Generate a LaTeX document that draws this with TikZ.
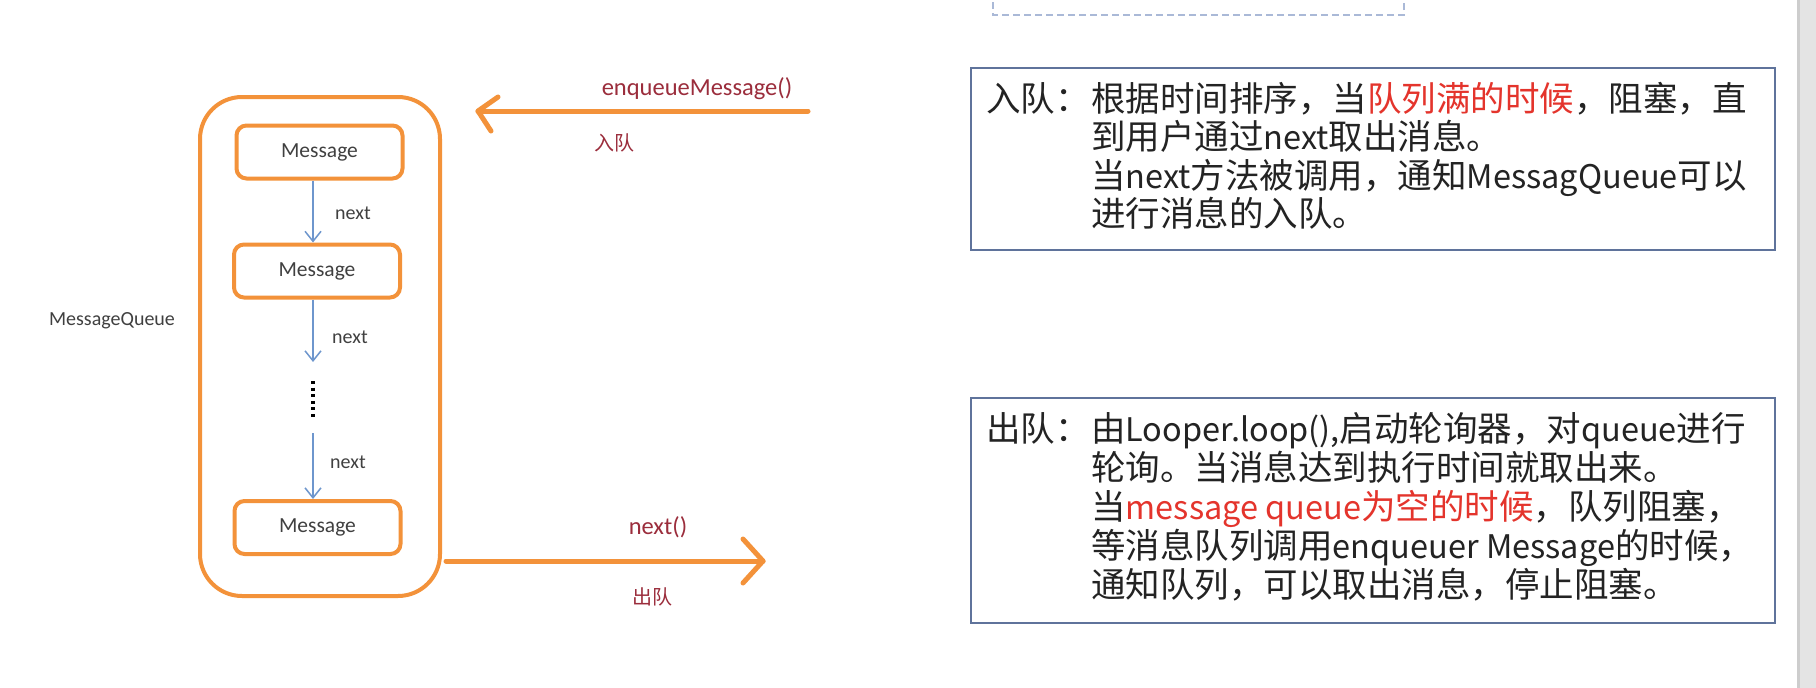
\documentclass[tikz,border=0pt]{standalone}
\usepackage{fontspec}
\setmainfont{Carlito}
\newfontfamily\cjk{Noto Sans CJK SC}
\newcommand{\lt}[1]{{\fontsize{32.5}{38}\selectfont #1}}
\usetikzlibrary{arrows.meta}
\definecolor{qorange}{RGB}{243,146,58}
\definecolor{qblue}{RGB}{110,150,205}
\definecolor{qred}{RGB}{228,52,44}
\definecolor{qmaroon}{RGB}{155,45,60}
\definecolor{qframe}{RGB}{95,115,155}
\definecolor{qdash}{RGB}{170,185,215}
\definecolor{qtext}{RGB}{35,35,35}
\definecolor{qgray}{RGB}{64,64,64}
\definecolor{qbar}{RGB}{228,228,228}
\definecolor{qbaredge}{RGB}{205,205,205}
\tikzset{
  msgbox/.style={draw=qorange, line width=4pt, rounded corners=10pt, minimum width=166pt, minimum height=53pt, inner sep=0pt, font=\fontsize{21.5}{25}\selectfont, text=qgray},
  queuebox/.style={draw=qorange, line width=4pt, rounded corners=42pt, minimum width=240pt, minimum height=499pt, inner sep=0pt},
  nextarrow/.style={draw=qblue, line width=1.5pt, -{Straight Barb[length=10pt,width=16pt]}},
  nextlabel/.style={font=\fontsize{20}{24}\selectfont, text=qgray, inner sep=0pt},
  flowarrow/.style={draw=qorange, line width=5pt, line cap=round, line join=round},
  flowlabel/.style={font=\fontsize{24.5}{28}\selectfont, text=qmaroon, inner sep=0pt},
  flowcjk/.style={font=\cjk\fontsize{20}{24}\selectfont, text=qmaroon, inner sep=0pt},
  notebox/.style={draw=qframe, line width=1.8pt, minimum width=804pt, inner sep=0pt},
  noteline/.style={anchor=base west, inner sep=0pt, font=\cjk\fontsize{34.5}{38}\selectfont, text=qtext},
  dashbox/.style={draw=qdash, line width=1.5pt, dash pattern=on 7pt off 4pt},
}
\begin{document}
\begin{tikzpicture}[x=1pt,y=-1pt]
\useasboundingbox (0,0) rectangle (1816,688);
\fill[white] (0,0) rectangle (1816,688);
% scroll bar at right edge
\fill[qbar] (1797,0) rectangle (1816,688);
\fill[qbaredge] (1797,0) rectangle (1800,688);
% dashed box at top
\draw[dashbox] (993,-20) rectangle (1404,15);

% queue
\node[queuebox] (mq) at (320,346.5) {};
\node[msgbox] (m1) at (319.5,152) {Message};
\node[msgbox] (m2) at (317,271) {Message};
\node[msgbox] (m3) at (317.5,527.5) {Message};
\node[nextlabel] (mqlabel) at (112,321) {MessageQueue};

\coordinate (ax) at (313,0);
\coordinate (a2end) at (313,362);
\coordinate (dtop) at (313,381);
\coordinate (dbot) at (313,418);
\coordinate (a3start) at (313,433);
\draw[nextarrow] (m1.south -| ax) -- (m2.north -| ax);
\draw[nextarrow] (m2.south -| ax) -- (a2end);
\draw[line width=3.5pt, dash pattern=on 3pt off 3.6pt] (dtop) -- (dbot);
\draw[nextarrow] (a3start) -- (m3.north -| ax);
\node[nextlabel] (n1) at (353,213) {next};
\node[nextlabel] (n2) at (350,337) {next};
\node[nextlabel] (n3) at (348,462) {next};

% enqueue arrow
\coordinate (enqS) at (808,111);
\coordinate (enqT) at (478,111);
\draw[flowarrow] (enqS) -- (enqT);
\draw[flowarrow] ([shift={(20,-14)}]enqT) -- (enqT) -- ([shift={(13,20)}]enqT);
\node[flowlabel] (enqlabel) at (697,89) {enqueueMessage()};
\node[flowcjk] (inlabel) at (614,143) {入队};

% dequeue arrow
\coordinate (deqS) at (446,561);
\coordinate (deqT) at (763,561);
\draw[flowarrow] (deqS) -- (deqT);
\draw[flowarrow] ([shift={(-20,-22)}]deqT) -- (deqT) -- ([shift={(-20,22)}]deqT);
\node[flowlabel] (nextcall) at (658,527) {next()};
\node[flowcjk] (outlabel) at (652,597) {出队};

% note boxes
\node[notebox, minimum height=182pt] (q1) at (1373,159) {};
\node[noteline] (q1h) at (986,111) {入队：};
\node[noteline] (q1a) at (1091,111) {根据时间排序，当\textcolor{qred}{队列满的时候}，阻塞，直};
\node[noteline] (q1b) at (1091,149.5) {到用户通过\lt{next}取出消息。};
\node[noteline] (q1c) at (1091,188) {当\lt{next}方法被调用，通知\lt{MessagQueue}可以};
\node[noteline] (q1d) at (1091,226.5) {进行消息的入队。};

\node[notebox, minimum height=225pt] (q2) at (1373,510.5) {};
\node[noteline] (q2h) at (986,441) {出队：};
\node[noteline] (q2a) at (1091,441) {由\lt{Looper.loop(),}启动轮询器，对\lt{queue}进行};
\node[noteline] (q2b) at (1091,480) {轮询。当消息达到执行时间就取出来。};
\node[noteline] (q2c) at (1091,519) {当\textcolor{qred}{\lt{message queue}为空的时候}，队列阻塞，};
\node[noteline] (q2d) at (1091,558) {等消息队列调用\lt{enqueuer Message}的时候，};
\node[noteline] (q2e) at (1091,597) {通知队列，可以取出消息，停止阻塞。};
\end{tikzpicture}
\end{document}
